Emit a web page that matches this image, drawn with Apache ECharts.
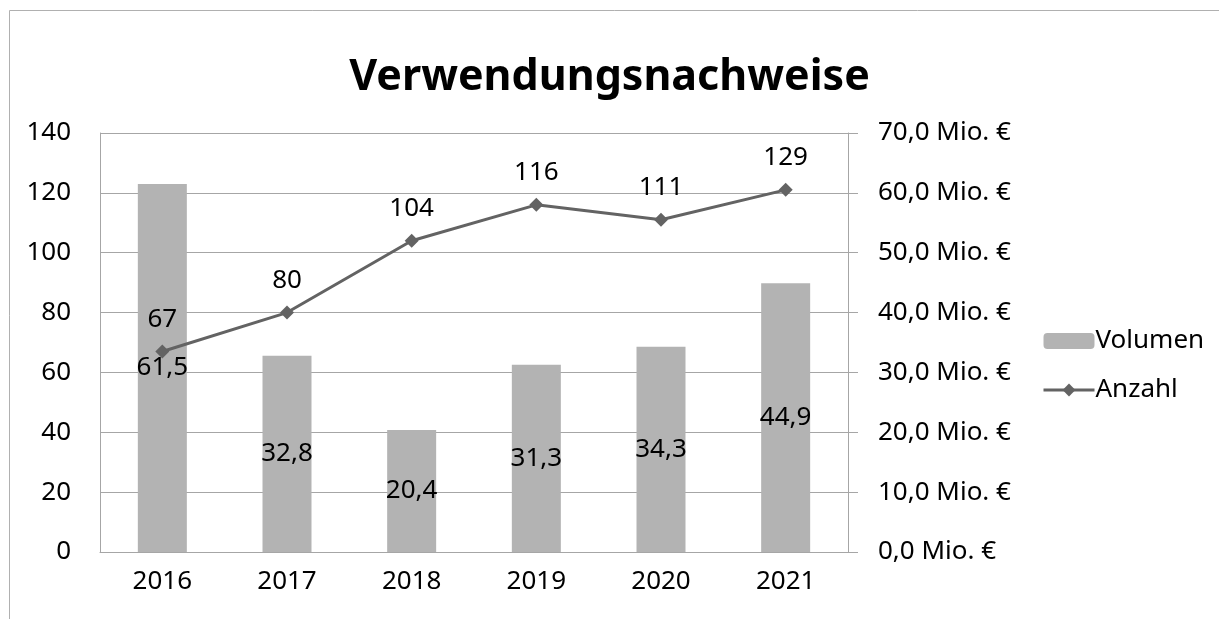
<!DOCTYPE html>
<html>
<head>
<meta charset="utf-8">
<script src="https://cdn.jsdelivr.net/npm/echarts@6/dist/echarts.min.js"></script>
<style>
html,body{margin:0;padding:0;background:#fff;}
#chart{width:1219px;height:619px;}
</style>
</head>
<body>
<div id="chart"></div>
<script>
// Daten
var jahre = ['2016','2017','2018','2019','2020','2021'];
var volumen = [61.5, 32.8, 20.4, 31.3, 34.3, 44.9];      // Mio. €
var anzahl = [67, 80, 104, 116, 111, 121];               // gezeichnete Punkte
var anzahlLabels = ['67','80','104','116','111','129'];  // Beschriftung wie im Bild
var linksTicks = [0, 140, 20];
var rechtsTicks = [0, 70, 10];

var schrift = '"Noto Sans", "Open Sans", sans-serif';
var grau = '#a6a6a6';
var linie = '#636363';

var chart = echarts.init(document.getElementById('chart'));

var option = {
	backgroundColor: '#fff',
	animation: false,
	title: {
		text: 'Verwendungsnachweise',
		left: 'center',
		top: 51,
		textStyle: {fontFamily: schrift, fontSize: 43, fontWeight: 'bold', color: '#000'}
	},
	legend: {
		orient: 'vertical',
		left: 1037,
		top: 323,
		itemWidth: 51,
		itemHeight: 16,
		itemGap: 23,
		textStyle: {fontFamily: schrift, fontSize: 26, color: '#000', padding: [0,0,0,-4]},
		data: [
			{name: 'Volumen'},
			{name: 'Anzahl', lineStyle: {width: 3, color: linie}}
		]
	},
	graphic: [{
		type: 'rect',
		shape: {x: 9.5, y: 10.5, width: 1400, height: 800},
		style: {fill: 'none', stroke: '#b0b0b0', lineWidth: 1},
		silent: true
	}],
	grid: {left: 100, right: 371, top: 133, bottom: 67},
	xAxis: {
		type: 'category',
		data: jahre,
		axisLine: {lineStyle: {color: grau}},
		axisTick: {show: false},
		axisLabel: {fontFamily: schrift, fontSize: 26, color: '#000', margin: 17}
	},
	yAxis: [{
		type: 'value',
		min: linksTicks[0], max: linksTicks[1], interval: linksTicks[2],
		axisLine: {show: true, lineStyle: {color: grau}},
		axisTick: {show: false},
		splitLine: {lineStyle: {color: grau}},
		axisLabel: {fontFamily: schrift, fontSize: 26, color: '#000', margin: 29}
	},{
		type: 'value',
		min: rechtsTicks[0], max: rechtsTicks[1], interval: rechtsTicks[2],
		axisLine: {show: true, lineStyle: {color: grau}},
		axisTick: {show: true, length: 10, lineStyle: {color: grau}},
		splitLine: {show: false},
		axisLabel: {
			fontFamily: schrift, fontSize: 26, color: '#000', margin: 30,
			formatter: function(v){ return v.toFixed(1).replace('.', ',') + ' Mio. €'; }
		}
	}],
	series: [{
		name: 'Volumen',
		type: 'bar',
		yAxisIndex: 1,
		data: volumen,
		barWidth: 49,
		itemStyle: {color: '#b3b3b3'},
		label: {
			show: true,
			position: 'inside',
			fontFamily: schrift, fontSize: 26, color: '#000',
			formatter: function(p){ return volumen[p.dataIndex].toFixed(1).replace('.', ','); }
		}
	},{
		name: 'Anzahl',
		type: 'line',
		yAxisIndex: 0,
		data: anzahl,
		symbol: 'diamond',
		symbolSize: 14,
		itemStyle: {color: linie},
		lineStyle: {color: linie, width: 3},
		z: 5,
		label: {
			show: true,
			position: 'top',
			distance: 12,
			fontFamily: schrift, fontSize: 26, color: '#000',
			formatter: function(p){ return anzahlLabels[p.dataIndex]; }
		}
	}]
};

chart.setOption(option);
</script>
</body>
</html>
